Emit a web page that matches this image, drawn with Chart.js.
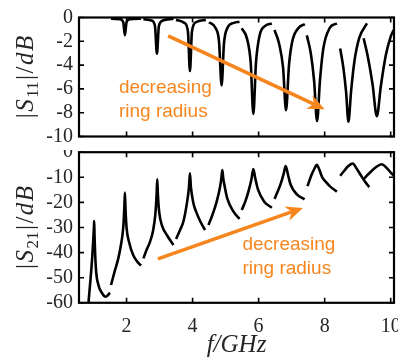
<!DOCTYPE html>
<html>
<head>
<meta charset="utf-8">
<script src="https://cdn.jsdelivr.net/npm/chart.js@4.4.1/dist/chart.umd.min.js"></script>
<style>
  html, body { margin: 0; padding: 0; background: #ffffff; }
  #wrap { position: relative; width: 398px; height: 360px; }
  #top { position: absolute; left: 0; top: 0; }
  #bottom { position: absolute; left: 0; top: 150px; }
</style>
</head>
<body>
<div id="wrap">
  <canvas id="top" width="398" height="150"></canvas>
  <canvas id="bottom" width="398" height="210"></canvas>
</div>
<script>
// tick values
var fTicks = [2, 4, 6, 8, 10];
var s11Ticks = [0, -2, -4, -6, -8, -10];
var s21Ticks = [0, -10, -20, -30, -40, -50, -60];

// |S21| in dB, one segment per ring (GHz)
var s21Freq = [
  [0.82, 0.9, 0.96, 1.0, 1.015, 1.02, 1.03, 1.07, 1.15, 1.25, 1.37, 1.5],
  [1.53, 1.65, 1.75, 1.83, 1.9, 1.93, 1.95, 1.97, 2.0, 2.08, 2.2, 2.32, 2.44],
  [2.51, 2.62, 2.71, 2.8, 2.87, 2.91, 2.93, 2.95, 2.99, 3.08, 3.22, 3.42],
  [3.5, 3.62, 3.72, 3.82, 3.89, 3.92, 3.95, 4.02, 4.1, 4.25, 4.38],
  [4.48, 4.6, 4.73, 4.83, 4.87, 4.9, 4.93, 4.97, 5.05, 5.24, 5.42],
  [5.49, 5.6, 5.69, 5.78, 5.84, 5.9, 5.98, 6.17, 6.4],
  [6.48, 6.58, 6.67, 6.76, 6.82, 6.89, 6.97, 7.16, 7.39],
  [7.48, 7.6, 7.7, 7.76, 7.84, 7.92, 8.05, 8.17, 8.37],
  [8.47, 8.58, 8.7, 8.85, 8.98, 9.1, 9.22, 9.35],
  [9.18, 9.35, 9.55, 9.73, 9.88, 10.02, 10.14]
];
var s21Db = [
  [-64, -52, -42, -33, -29, -27.4, -33, -46, -53, -56, -57.6, -56],
  [-52.9, -47, -42.3, -37, -30, -23, -16.1, -23, -30, -36, -41, -43.5, -45.2],
  [-42.3, -38.5, -35.7, -31.5, -25, -17, -10.8, -17, -24, -29.5, -33, -37],
  [-34.6, -31, -27.7, -21, -14, -8.4, -14, -20, -23.5, -28, -31],
  [-29, -25, -19.7, -14, -10.5, -7.1, -10.5, -13.5, -18.4, -23.7, -26.6],
  [-23, -19.5, -15.7, -11, -6.7, -10.5, -14.8, -19.7, -22.1],
  [-18.6, -15.6, -12.5, -8.5, -5.5, -9, -13, -16.8, -18.8],
  [-13.5, -9.1, -6.3, -5, -7, -9.8, -12, -13.7, -15.7],
  [-9.4, -7.6, -5.7, -4.5, -6.8, -9.3, -11.7, -13.9],
  [-10.7, -8.4, -6, -4.8, -6.3, -8.4, -9.8]
];

// |S11| in dB
var s11Freq = [
  [1.53, 1.8, 1.9, 1.95, 2.0, 2.1, 2.44],
  [2.51, 2.75, 2.86, 2.92, 2.98, 3.1, 3.42],
  [3.5, 3.75, 3.86, 3.92, 3.98, 4.1, 4.4],
  [4.5, 4.7, 4.8, 4.88, 4.95, 5.05, 5.25, 5.42],
  [5.49, 5.65, 5.76, 5.84, 5.92, 6.03, 6.2, 6.4],
  [6.48, 6.62, 6.74, 6.83, 6.92, 7.02, 7.2, 7.4],
  [7.46, 7.58, 7.68, 7.77, 7.86, 7.96, 8.15, 8.37],
  [8.47, 8.57, 8.65, 8.72, 8.8, 8.9, 9.05, 9.28],
  [9.18, 9.3, 9.45, 9.58, 9.7, 9.85, 10.0, 10.09]
];
var s11Db = [
  [-0.1, -0.15, -0.4, -1.5, -0.4, -0.15, -0.1],
  [-0.15, -0.25, -0.7, -3.05, -0.7, -0.25, -0.1],
  [-0.2, -0.45, -1.2, -4.5, -1.2, -0.4, -0.2],
  [-0.4, -0.9, -2, -5.7, -2.2, -0.9, -0.45, -0.35],
  [-0.9, -1.8, -3.8, -8.1, -3.8, -1.5, -0.7, -0.5],
  [-1.05, -2.2, -4.2, -7.8, -4.0, -2.0, -0.9, -0.55],
  [-1.5, -3.0, -5.3, -8.7, -5.2, -2.6, -0.9, -0.5],
  [-2.6, -4.3, -6.3, -8.75, -6.2, -3.7, -1.7, -0.5],
  [-1.75, -3.2, -5.6, -8.3, -5.8, -3.2, -1.6, -1.05]
];

var orange = '#f7851e';
var labelColor = '#262626';


function segments(freqs, dbs) {
  return freqs.map(function(f, i) {
    return {
      data: f.map(function(x, j) { return { x: x, y: dbs[i][j] }; }),
      borderColor: '#000000',
      borderWidth: 2.6,
      pointRadius: 0,
      fill: false,
      cubicInterpolationMode: 'monotone'
    };
  });
}


// box with inward ticks on all four sides
var frame = {
  id: 'frame',
  afterDatasetsDraw: function(chart) {
    var ctx = chart.ctx, a = chart.chartArea, sx = chart.scales.x, sy = chart.scales.y;
    ctx.save();
    ctx.strokeStyle = '#000000';
    ctx.lineWidth = 1.6;
    ctx.beginPath();
    fTicks.forEach(function(v) {
      var x = sx.getPixelForValue(v);
      ctx.moveTo(x, a.bottom); ctx.lineTo(x, a.bottom - 5);
      ctx.moveTo(x, a.top); ctx.lineTo(x, a.top + 5);
    });
    sy.ticks.forEach(function(t) {
      var y = sy.getPixelForValue(t.value);
      ctx.moveTo(a.left, y); ctx.lineTo(a.left + 5, y);
      ctx.moveTo(a.right, y); ctx.lineTo(a.right - 5, y);
    });
    ctx.stroke();
    ctx.lineWidth = 2.2;
    ctx.strokeRect(a.left, a.top, a.right - a.left, a.bottom - a.top);
    ctx.restore();
  }
};


function drawYTitle(ctx, cx, cy, sub) {
  var size = 25;
  var serif = '"Liberation Serif", serif';
  var parts = [
    ['|', size + 'px ' + serif, 0],
    ['S', 'italic ' + size + 'px ' + serif, 0],
    [sub, Math.round(size * 0.68) + 'px ' + serif, 5],
    ['|', size + 'px ' + serif, 0],
    ['/', size + 'px ' + serif, 0],
    ['d', 'italic ' + size + 'px ' + serif, 0],
    ['B', 'italic ' + size + 'px ' + serif, 0]
  ];
  var gap = 1.5;
  var total = 0;
  parts.forEach(function(p) { ctx.font = p[1]; p.push(ctx.measureText(p[0]).width); total += p[3] + gap; });
  total -= gap;
  ctx.save();
  ctx.translate(cx, cy);
  ctx.rotate(-Math.PI / 2);
  ctx.fillStyle = labelColor;
  ctx.textBaseline = 'alphabetic';
  var x = -total / 2;
  var base = size * 0.33;
  parts.forEach(function(p) {
    ctx.font = p[1];
    ctx.fillText(p[0], x, base + p[2]);
    x += p[3] + gap;
  });
  ctx.restore();
}


// y title, orange arrow and orange note
var notes = {
  id: 'notes',
  afterDraw: function(chart, args, opts) {
    var ctx = chart.ctx, a = chart.chartArea, sx = chart.scales.x, sy = chart.scales.y;
    drawYTitle(ctx, 25, (a.top + a.bottom) / 2, opts.sub);

    var x0 = sx.getPixelForValue(opts.arrow[0]), y0 = sy.getPixelForValue(opts.arrow[1]);
    var x1 = sx.getPixelForValue(opts.arrow[2]), y1 = sy.getPixelForValue(opts.arrow[3]);
    var ang = Math.atan2(y1 - y0, x1 - x0);
    var len = 17, half = 7.5;
    ctx.save();
    ctx.strokeStyle = orange;
    ctx.fillStyle = orange;
    ctx.lineWidth = 3.6;
    ctx.beginPath();
    ctx.moveTo(x0, y0);
    ctx.lineTo(x1 - Math.cos(ang) * len * 0.7, y1 - Math.sin(ang) * len * 0.7);
    ctx.stroke();
    ctx.translate(x1, y1);
    ctx.rotate(ang);
    ctx.beginPath();
    ctx.moveTo(0, 0);
    ctx.lineTo(-len, -half);
    ctx.lineTo(-len * 0.7, 0);
    ctx.lineTo(-len, half);
    ctx.closePath();
    ctx.fill();
    ctx.restore();

    ctx.save();
    ctx.fillStyle = orange;
    ctx.font = '19px "Liberation Sans", Arial, sans-serif';
    ctx.textAlign = 'left';
    ctx.textBaseline = 'middle';
    var tx = sx.getPixelForValue(opts.textAt[0]);
    ctx.fillText('decreasing', tx, sy.getPixelForValue(opts.textAt[1]));
    ctx.fillText('ring radius', tx, sy.getPixelForValue(opts.textAt[2]));
    ctx.restore();
  }
};


function xScale(height, showLabels) {
  return {
    type: 'linear',
    min: 0.56,
    max: 10.1,
    grid: { display: false, drawTicks: false },
    border: { display: false },
    ticks: {
      display: showLabels,
      autoSkip: false,
      maxRotation: 0,
      padding: 12,
      color: labelColor,
      font: { family: '"Liberation Serif", serif', size: 20 }
    },
    title: {
      display: showLabels,
      text: 'f/GHz',
      color: labelColor,
      padding: { top: 0, bottom: 0 },
      font: { family: '"Liberation Serif", serif', size: 25, style: 'italic' }
    },
    afterBuildTicks: function(s) { s.ticks = fTicks.map(function(v) { return { value: v }; }); },
    afterFit: function(s) { s.height = height; s.paddingLeft = 0; s.paddingRight = 0; }
  };
}

function yScale(lo, tickList) {
  return {
    min: lo,
    max: 0,
    grid: { display: false, drawTicks: false },
    border: { display: false },
    ticks: {
      autoSkip: false,
      padding: 6,
      color: labelColor,
      font: { family: '"Liberation Serif", serif', size: 20 }
    },
    afterBuildTicks: function(s) { s.ticks = tickList.map(function(v) { return { value: v }; }); },
    afterFit: function(s) { s.width = 79; s.paddingTop = 0; s.paddingBottom = 0; }
  };
}


new Chart(document.getElementById('top'), {
  type: 'line',
  data: { datasets: segments(s11Freq, s11Db) },
  options: {
    responsive: false,
    animation: false,
    devicePixelRatio: 1,
    layout: { padding: { top: 17.5, right: 4, left: 0, bottom: 0 } },
    plugins: {
      legend: { display: false },
      tooltip: { enabled: false },
      notes: { sub: '11', arrow: [3.26, -1.55, 8.0, -7.7], textAt: [1.77, -5.92, -7.94] }
    },
    scales: { x: xScale(13.5, false), y: yScale(-10, s11Ticks) }
  },
  plugins: [frame, notes]
});

new Chart(document.getElementById('bottom'), {
  type: 'line',
  data: { datasets: segments(s21Freq, s21Db) },
  options: {
    responsive: false,
    animation: false,
    devicePixelRatio: 1,
    layout: { padding: { top: 2.2, right: 4, left: 0, bottom: 0 } },
    plugins: {
      legend: { display: false },
      tooltip: { enabled: false },
      notes: { sub: '21', arrow: [2.95, -42.5, 7.34, -22.2], textAt: [5.51, -36.97, -46.5] }
    },
    scales: { x: xScale(57.2, true), y: yScale(-60, s21Ticks) }
  },
  plugins: [frame, notes]
});
</script>
</body>
</html>
